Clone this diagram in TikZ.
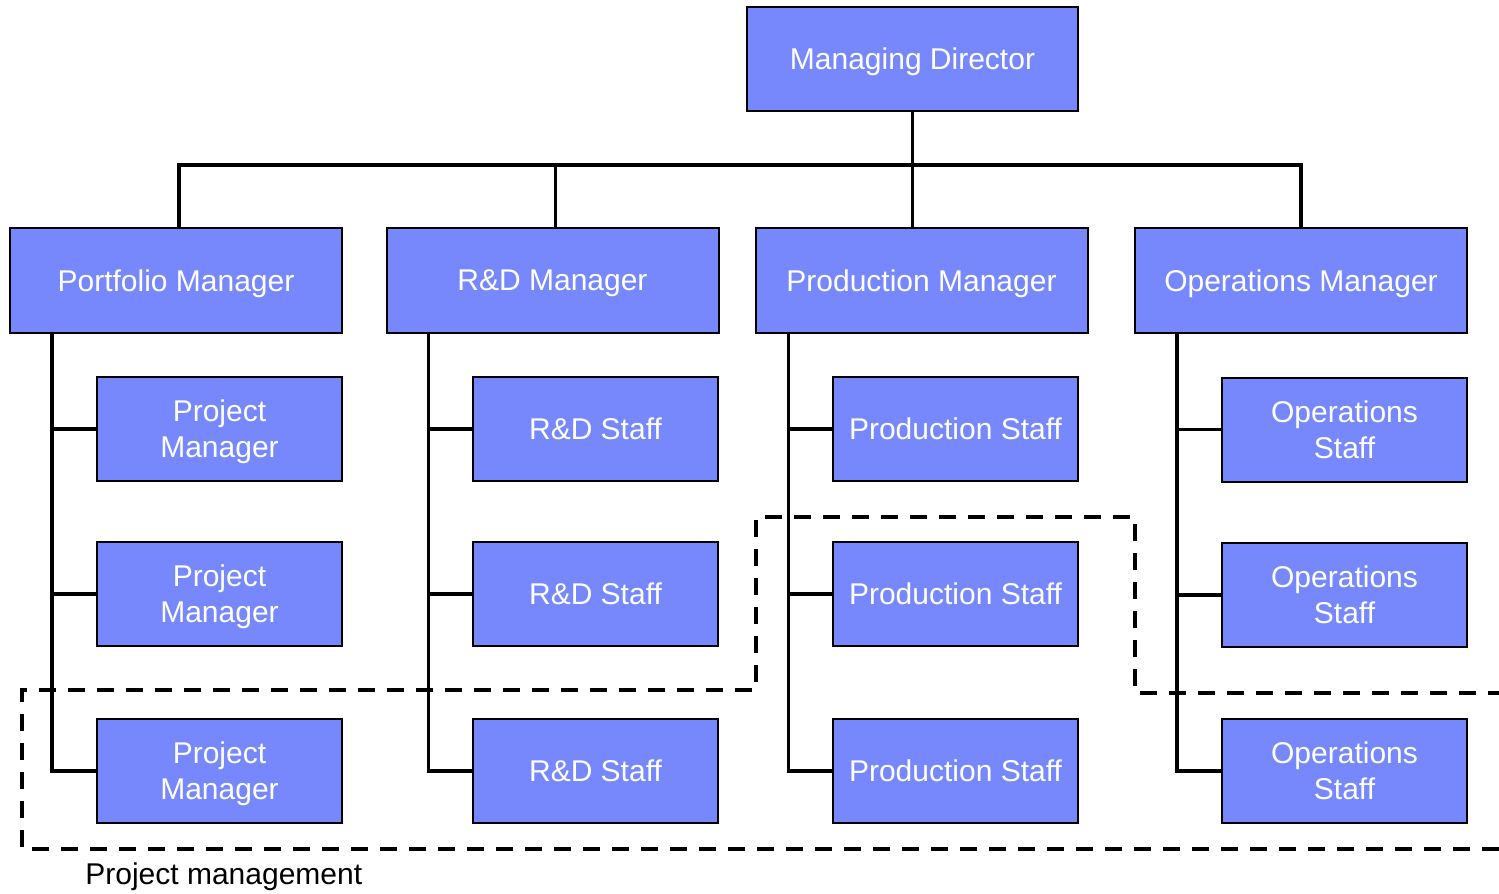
\documentclass[tikz,border=0pt]{standalone}
\usepackage{fontspec}
\setmainfont{Liberation Sans}
\usepackage{tikz}
\definecolor{boxblue}{RGB}{119,136,252}
\tikzstyle{role} = [draw=black, line width=1pt, fill=boxblue, text=white, align=center, inner sep=0pt, text depth=0pt, font=\fontsize{15}{18}\selectfont]
\tikzstyle{head} = [role, minimum width=166pt, minimum height=52.5pt]
\tikzstyle{staff} = [role, minimum width=122.5pt, minimum height=52pt]
\tikzstyle{link} = [line width=1.7pt]
\tikzstyle{group} = [line width=1.8pt, dash pattern=on 8.5pt off 6pt]

\begin{document}
\begin{tikzpicture}[x=0.5pt,y=-0.5pt]
\useasboundingbox (0,0) rectangle (1499,894);
% top and managers
\node[head, minimum width=165.5pt, minimum height=52pt] (md) at (912.5,59) {Managing Director};
\node[head] (port) at (176,280.5) {Portfolio Manager};
\node[head] (rnd) at (552.5,280.5) {R\&D Manager};
\node[head] (prod) at (921.5,280.5) {Production Manager};
\node[head] (ops) at (1301,280.5) {Operations Manager};
% staff columns
\node[staff] (p1) at (219.5,429) {Project\\Manager};
\node[staff] (p2) at (219.5,594) {Project\\Manager};
\node[staff] (p3) at (219.5,771) {Project\\Manager};
\node[staff] (r1) at (595.5,429) {R\&D Staff};
\node[staff] (r2) at (595.5,594) {R\&D Staff};
\node[staff] (r3) at (595.5,771) {R\&D Staff};
\node[staff] (s1) at (955.5,429) {Production Staff};
\node[staff] (s2) at (955.5,594) {Production Staff};
\node[staff] (s3) at (955.5,771) {Production Staff};
\node[staff] (o1) at (1344.5,429.5) {Operations\\Staff};
\node[staff] (o2) at (1344.5,595) {Operations\\Staff};
\node[staff] (o3) at (1344.5,771) {Operations\\Staff};
% director to managers
\coordinate (bus) at (912,165);
\draw[link] (md.south) -- (md.south |- prod.north);
\draw[link] ([xshift=1.5pt]port.north) |- (ops.north |- bus) -- (ops.north);
\draw[link] ([xshift=1.5pt]rnd.north) -- ([xshift=1.5pt]rnd.north |- bus);
% managers to staff
\foreach \m/\s/\dx in {port/p/21.5pt, rnd/r/21.5pt, prod/s/17pt, ops/o/21.5pt}{
  \coordinate (\m-top) at ([xshift=\dx]\m.south west);
  \draw[link] (\m-top) |- (\s3.west);
  \draw[link] (\m-top |- \s1.west) -- (\s1.west);
  \draw[link] (\m-top |- \s2.west) -- (\s2.west);
}
% project management area
\draw[group] (1499,849) -- (22,849) -- (22,690) -- (756,690) -- (756,517) -- (1135,517) -- (1135,693) -- (1499,693);
\node[anchor=base west, inner sep=0pt, font=\fontsize{15}{18}\selectfont] (pmlabel) at (85,884) {Project management};
\end{tikzpicture}
\end{document}
